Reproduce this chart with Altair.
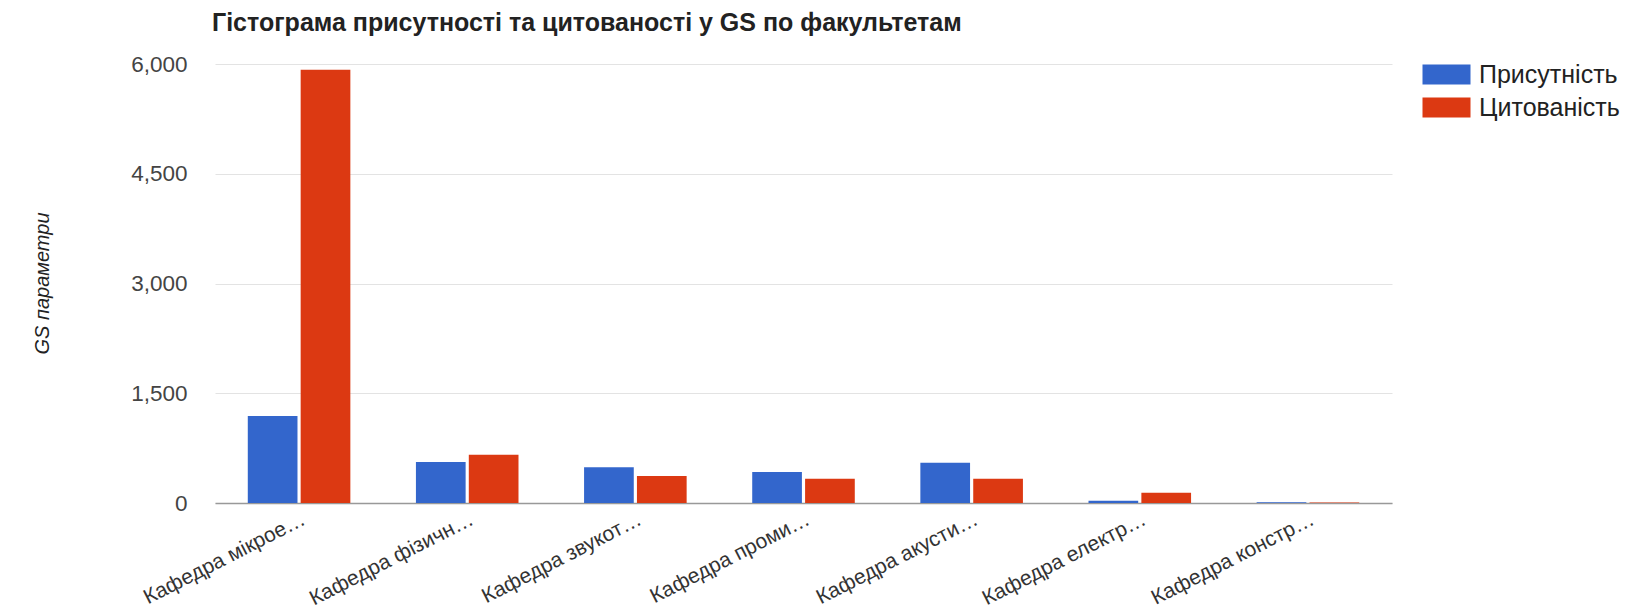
import altair as alt
import pandas as pd

departments = [
    "Кафедра мікрое…",
    "Кафедра фізичн…",
    "Кафедра звукот…",
    "Кафедра проми…",
    "Кафедра акусти…",
    "Кафедра електр…",
    "Кафедра констр…",
]
presence = [1190, 560, 490, 425, 550, 30, 10]
citations = [5920, 660, 370, 330, 330, 140, 8]
series = ["Присутність", "Цитованість"]
colors = ["#3366cc", "#dc3912"]
y_ticks = [0, 1500, 3000, 4500, 6000]

rows = []
for d, p, c in zip(departments, presence, citations):
    rows.append({"dept": d, "series": series[0], "value": p})
    rows.append({"dept": d, "series": series[1], "value": c})
df = pd.DataFrame(rows)

FONT = "Liberation Sans"

chart = alt.Chart(df).mark_bar().encode(
    x=alt.X(
        "dept:N",
        sort=departments,
        title=None,
        scale=alt.Scale(paddingInner=0.39, paddingOuter=0.195),
        axis=alt.Axis(
            labelAngle=-27,
            labelAlign="right",
            labelBaseline="top",
            labelPadding=5,
            ticks=False,
            domainColor="#999999",
            domainWidth=1.5,
            labelFontSize=21,
            labelColor="#333333",
            labelFont=FONT,
            labelLimit=0,
            grid=False,
        ),
    ),
    xOffset=alt.XOffset("series:N", sort=series, scale=alt.Scale(paddingInner=0.06)),
    y=alt.Y(
        "value:Q",
        scale=alt.Scale(domain=[0, 6000], nice=False),
        title="GS параметри",
        axis=alt.Axis(
            values=y_ticks,
            format=",.0f",
            domain=False,
            ticks=False,
            labelPadding=28,
            labelFontSize=22.5,
            labelColor="#444444",
            labelFont=FONT,
            gridColor="#e3e3e3",
            gridWidth=1,
            titleFont=FONT,
            titleFontSize=20,
            titleFontStyle="italic",
            titleFontWeight="normal",
            titleColor="#222222",
            titleAngle=270,
            titleAlign="center",
            titleBaseline="bottom",
            titleX=-163,
            titleY=219,
        ),
    ),
    color=alt.Color(
        "series:N",
        sort=series,
        scale=alt.Scale(domain=series, range=colors),
        legend=alt.Legend(
            title=None,
            orient="none",
            legendX=1219,
            legendY=-2,
            symbolType="M-2.4,-1H2.4V1H-2.4Z",
            symbolSize=400,
            symbolStrokeWidth=0,
            symbolOpacity=1,
            labelFont=FONT,
            labelFontSize=25,
            labelColor="#222222",
            labelOffset=20,
            rowPadding=7,
            labelLimit=0,
        ),
    ),
).properties(
    width=1177,
    height=439,
    background="white",
    title=alt.TitleParams(
        text="Гістограма присутності та цитованості у GS по факультетам",
        anchor="start",
        frame="group",
        fontSize=25,
        fontWeight="bold",
        font=FONT,
        color="#222222",
        offset=17,
        dx=-3,
    ),
    autosize=alt.AutoSizeParams(type="none"),
    padding={"left": 207, "top": 56, "right": 232, "bottom": 105},
).configure_view(stroke="transparent", strokeWidth=0)

chart.save("out.html", embed_options={"renderer": "svg", "actions": False})
